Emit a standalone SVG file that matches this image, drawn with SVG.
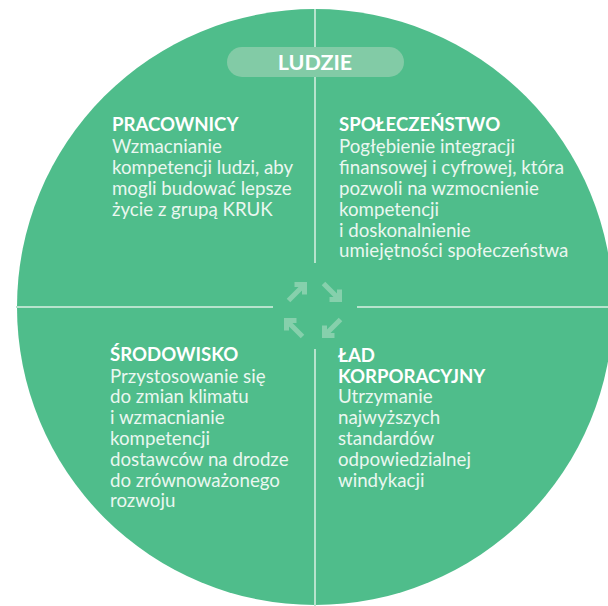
<svg xmlns="http://www.w3.org/2000/svg" width="608" height="606" viewBox="0 0 608 606">
  <style>
    .title { font-family: Lato, "Liberation Sans", sans-serif; font-weight: 700; font-size: 18.6px; fill: #ffffff; }
    .body { font-family: Lato, "Liberation Sans", sans-serif; font-weight: 400; font-size: 18.7px; fill: #eaf7f0; }
    .divider { stroke: #b7e3cd; stroke-width: 2; fill: none; }
    .cycle { stroke: #86d0ac; stroke-width: 5; fill: none; stroke-linejoin: miter; stroke-linecap: butt; }
  </style>
  <defs>
    <!-- arrow pointing north-east, drawn around the origin -->
    <path id="arrowNE" d="M-8.5,8.5 L6,-6 M-2.5,-7.5 H7.5 V2.5"/>
  </defs>

  <rect width="608" height="606" fill="#ffffff"/>

  <g id="wheel">
    <circle cx="315" cy="307" r="298" fill="#4fbd8b"/>
  </g>

  <g id="connectors">
    <line class="divider" x1="315" y1="9" x2="315" y2="263"/>
    <line class="divider" x1="315" y1="349" x2="315" y2="606"/>
    <line class="divider" x1="16" y1="307" x2="273" y2="307"/>
    <line class="divider" x1="357" y1="307" x2="608" y2="307"/>
  </g>

  <g id="cycle-arrows" class="cycle">
    <use href="#arrowNE" transform="translate(297,292)"/>
    <use href="#arrowNE" transform="translate(332,292) rotate(90)"/>
    <use href="#arrowNE" transform="translate(332,328) rotate(180)"/>
    <use href="#arrowNE" transform="translate(294,328) rotate(270)"/>
  </g>

  <g id="ludzie">
    <rect x="227" y="47" width="177" height="30" rx="15" fill="#82cba6"/>
    <text x="315" y="70" text-anchor="middle" font-family="Lato, 'Liberation Sans', sans-serif" font-weight="700" font-size="21.5" fill="#ffffff">LUDZIE</text>
  </g>

  <g id="pracownicy">
    <text class="title" x="112" y="131">PRACOWNICY</text>
    <text class="body" x="112">
      <tspan x="112" y="153">Wzmacnianie</tspan>
      <tspan x="112" y="174">kompetencji ludzi, aby</tspan>
      <tspan x="112" y="195">mogli budować lepsze</tspan>
      <tspan x="112" y="216">życie z grupą KRUK</tspan>
    </text>
  </g>

  <g id="spoleczenstwo">
    <text class="title" x="339" y="131">SPOŁECZEŃSTWO</text>
    <text class="body" x="339">
      <tspan x="339" y="153">Pogłębienie integracji</tspan>
      <tspan x="339" y="174">finansowej i cyfrowej, która</tspan>
      <tspan x="339" y="195">pozwoli na wzmocnienie</tspan>
      <tspan x="339" y="216">kompetencji</tspan>
      <tspan x="339" y="237">i doskonalnienie</tspan>
      <tspan x="339" y="257">umiejętności społeczeństwa</tspan>
    </text>
  </g>

  <g id="srodowisko">
    <text class="title" x="110" y="361">ŚRODOWISKO</text>
    <text class="body" x="110">
      <tspan x="110" y="383">Przystosowanie się</tspan>
      <tspan x="110" y="403">do zmian klimatu</tspan>
      <tspan x="110" y="424">i wzmacnianie</tspan>
      <tspan x="110" y="445">kompetencji</tspan>
      <tspan x="110" y="466">dostawców na drodze</tspan>
      <tspan x="110" y="487">do zrównoważonego</tspan>
      <tspan x="110" y="507">rozwoju</tspan>
    </text>
  </g>

  <g id="lad-korporacyjny">
    <text class="title" x="338">
      <tspan x="338" y="362">ŁAD</tspan>
      <tspan x="338" y="383">KORPORACYJNY</tspan>
    </text>
    <text class="body" x="338">
      <tspan x="338" y="403">Utrzymanie</tspan>
      <tspan x="338" y="424">najwyższych</tspan>
      <tspan x="338" y="445">standardów</tspan>
      <tspan x="338" y="466">odpowiedzialnej</tspan>
      <tspan x="338" y="487">windykacji</tspan>
    </text>
  </g>
</svg>
